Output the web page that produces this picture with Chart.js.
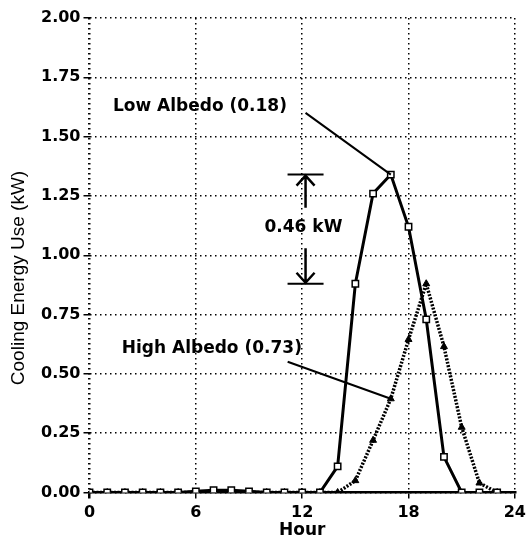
<!DOCTYPE html>
<html>
<head>
<meta charset="utf-8">
<script src="https://cdn.jsdelivr.net/npm/chart.js@4/dist/chart.umd.min.js"></script>
<style>
  html, body { margin: 0; padding: 0; background: #fff; }
</style>
</head>
<body>
<canvas id="myChart" width="531" height="546"></canvas>
<script>
const hours = [0, 1, 2, 3, 4, 5, 6, 7, 8, 9, 10, 11, 12, 13, 14, 15, 16, 17, 18, 19, 20, 21, 22, 23]
const lowAlbedo = [0, 0, 0, 0, 0, 0, 0.005, 0.01, 0.01, 0.005, 0, 0, 0, 0, 0.11, 0.88, 1.26, 1.34, 1.12, 0.73, 0.15, 0, 0, 0]
const highAlbedo = [0, 0, 0, 0, 0, 0, 0, 0.005, 0.005, 0, 0, 0, 0, 0, 0, 0.05, 0.22, 0.395, 0.645, 0.88, 0.615, 0.275, 0.04, 0]
const hourTicks = [0, 6, 12, 18, 24]
const energyTicks = [0, 0.25, 0.5, 0.75, 1, 1.25, 1.5, 1.75, 2]

const BOLD = '"DejaVu Sans", sans-serif'

const toPoints = vals => hours.map((h, i) => ({ x: h, y: vals[i] }))

// labels, leader lines and the peak difference marker
const notes = {
  id: 'notes',
  afterDatasetsDraw(chart) {
    const { ctx, scales: { x, y } } = chart
    const peakLow = Math.max(...lowAlbedo)
    const peakHigh = Math.max(...highAlbedo)
    const iLow = lowAlbedo.indexOf(peakLow)

    ctx.save()
    ctx.fillStyle = '#000'
    ctx.strokeStyle = '#000'
    ctx.font = 'bold 17px ' + BOLD
    ctx.textBaseline = 'middle'
    ctx.textAlign = 'left'
    ctx.fillText('Low Albedo (0.18)', x.getPixelForValue(1.32), y.getPixelForValue(1.627))
    ctx.fillText('High Albedo (0.73)', x.getPixelForValue(1.82), y.getPixelForValue(0.605))

    ctx.lineWidth = 2
    ctx.beginPath()
    ctx.moveTo(x.getPixelForValue(12.19), y.getPixelForValue(1.60))
    ctx.lineTo(x.getPixelForValue(hours[iLow]), y.getPixelForValue(peakLow))
    ctx.moveTo(x.getPixelForValue(11.18), y.getPixelForValue(0.551))
    ctx.lineTo(x.getPixelForValue(17), y.getPixelForValue(highAlbedo[17]))
    ctx.stroke()

    // dimension arrows between the two peaks
    const ax = x.getPixelForValue(12.19)
    const top = y.getPixelForValue(peakLow)
    const bot = y.getPixelForValue(peakHigh)
    ctx.lineWidth = 2
    ctx.beginPath()
    ctx.moveTo(ax - 18, top); ctx.lineTo(ax + 18, top)
    ctx.moveTo(ax - 18, bot); ctx.lineTo(ax + 18, bot)
    ctx.stroke()
    ctx.lineWidth = 2.5
    ctx.beginPath()
    ctx.moveTo(ax, top); ctx.lineTo(ax, y.getPixelForValue(1.20))
    ctx.moveTo(ax - 9, top + 11); ctx.lineTo(ax, top + 1); ctx.lineTo(ax + 9, top + 11)
    ctx.moveTo(ax, y.getPixelForValue(1.03)); ctx.lineTo(ax, bot)
    ctx.moveTo(ax - 9, bot - 11); ctx.lineTo(ax, bot - 1); ctx.lineTo(ax + 9, bot - 11)
    ctx.stroke()

    ctx.textAlign = 'center'
    ctx.fillText((peakLow - peakHigh).toFixed(2) + ' kW', x.getPixelForValue(12.07), y.getPixelForValue(1.116))
    ctx.restore()
  },
  afterDraw(chart) {
    const { ctx } = chart
    ctx.save()
    ctx.translate(19, 278)
    ctx.rotate(-Math.PI / 2)
    ctx.font = '19px "Liberation Sans", Arial, sans-serif'
    ctx.fillStyle = '#000'
    ctx.textAlign = 'center'
    ctx.textBaseline = 'middle'
    ctx.fillText('Cooling Energy Use (kW)', 0, 0)
    ctx.restore()
  }
}

new Chart(document.getElementById('myChart'), {
  type: 'line',
  data: {
    datasets: [
      {
        label: 'Low Albedo (0.18)',
        data: toPoints(lowAlbedo),
        borderColor: '#000',
        borderWidth: 3,
        pointStyle: 'rect',
        pointRadius: 4.5,
        pointBackgroundColor: '#fff',
        pointBorderColor: '#000',
        pointBorderWidth: 1.5,
        tension: 0,
        order: 0
      },
      {
        label: 'High Albedo (0.73)',
        data: toPoints(highAlbedo),
        borderColor: '#000',
        borderWidth: 3.5,
        borderDash: [2, 1.5],
        pointStyle: 'triangle',
        pointRadius: 4,
        pointBackgroundColor: '#000',
        pointBorderColor: '#000',
        pointBorderWidth: 1,
        tension: 0,
        order: 1
      }
    ]
  },
  options: {
    responsive: false,
    animation: false,
    devicePixelRatio: 1,
    layout: { padding: { left: 0, right: 13, top: 18, bottom: 0 } },
    plugins: { legend: { display: false }, tooltip: { enabled: false } },
    scales: {
      x: {
        type: 'linear',
        min: 0,
        max: 24,
        afterFit: s => { s.height = 53.5 },
        afterBuildTicks: s => { s.ticks = hourTicks.map(v => ({ value: v })) },
        ticks: {
          color: '#000',
          padding: 5,
          maxRotation: 0,
          font: { family: BOLD, size: 16, weight: 'bold' }
        },
        grid: {
          color: '#000',
          lineWidth: c => (c.tick && c.tick.value === 0 ? 2.5 : 1.5),
          tickLength: 6,
          tickColor: '#000'
        },
        border: { display: true, color: '#000', width: 2.5, dash: [1.5, 3.5] },
        title: {
          display: true,
          text: 'Hour',
          color: '#000',
          padding: { top: 0, bottom: 5 },
          font: { family: BOLD, size: 17, weight: 'bold' }
        }
      },
      y: {
        min: 0,
        max: 2,
        afterFit: s => { s.width = 89.5 },
        afterBuildTicks: s => { s.ticks = energyTicks.map(v => ({ value: v })) },
        ticks: {
          color: '#000',
          padding: 3,
          callback: v => v.toFixed(2),
          font: { family: BOLD, size: 16, weight: 'bold' }
        },
        grid: {
          color: '#000',
          lineWidth: 1.5,
          tickLength: 6,
          tickColor: '#000'
        },
        border: { display: false, dash: [1.5, 3.5] }
      }
    }
  },
  plugins: [notes]
})
</script>
</body>
</html>
